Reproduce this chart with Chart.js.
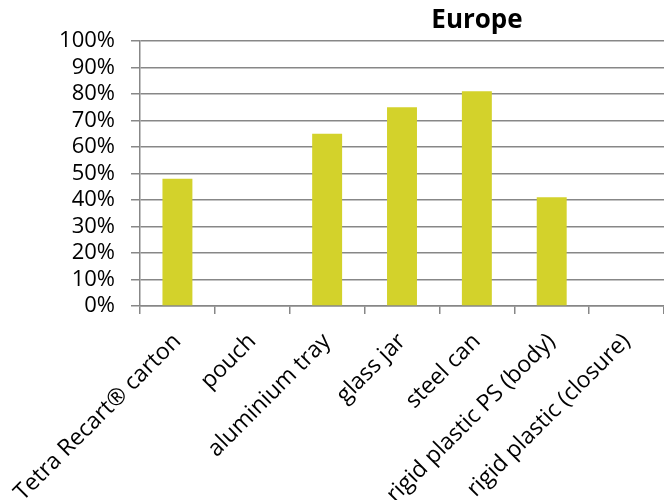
<!DOCTYPE html>
<html><head><meta charset="utf-8">
<script src="https://cdn.jsdelivr.net/npm/chart.js@4/dist/chart.umd.min.js"></script>
<style>html,body{margin:0;padding:0;background:#fff;overflow:hidden}</style>
</head><body>
<canvas id="c" width="664" height="500" style="display:block;width:664px;height:500px"></canvas>
<script>
const titleText = 'Europe';
const categories = ['Tetra Recart® carton', 'pouch', 'aluminium tray', 'glass jar', 'steel can', 'rigid plastic PS (body)', 'rigid plastic (closure)'];
const values = [48, null, 65, 75, 81, 41, null];
const yMin = 0, yMax = 100, yStep = 10;

const gridColor = '#878787';
const barColor = '#D3D22B';
const fontFamily = '"Open Sans", "Liberation Sans", sans-serif';

const titlePlugin = {
  id: 'customTitle',
  afterDraw(chart) {
    const ctx = chart.ctx;
    ctx.save();
    ctx.font = 'bold 26px ' + fontFamily;
    ctx.fillStyle = '#000';
    ctx.textAlign = 'center';
    ctx.textBaseline = 'alphabetic';
    ctx.fillText(titleText, 477, 28);
    ctx.restore();
  }
};

new Chart(document.getElementById('c'), {
  type: 'bar',
  data: {
    labels: categories,
    datasets: [{
      data: values,
      backgroundColor: barColor,
      borderWidth: 0,
      barPercentage: 0.4,
      categoryPercentage: 1.0
    }]
  },
  options: {
    responsive: false,
    devicePixelRatio: 1,
    animation: false,
    layout: { padding: { left: 0, right: 0, top: 41, bottom: 0 } },
    plugins: { legend: { display: false }, title: { display: false }, tooltip: { enabled: false } },
    scales: {
      x: {
        grid: { display: true, drawOnChartArea: false, drawTicks: true, tickLength: 8, color: gridColor, lineWidth: 1.5, offset: true },
        border: { display: true, color: gridColor, width: 1.5 },
        ticks: {
          autoSkip: false, maxRotation: 45, minRotation: 45,
          color: '#000', padding: 14,
          font: { family: fontFamily, size: 23 }
        },
        afterFit(scale) { scale.height = 194; scale.paddingLeft = 0; scale.paddingRight = 0; }
      },
      y: {
        min: yMin, max: yMax,
        grid: { color: gridColor, lineWidth: 1.5, drawTicks: true, tickLength: 9 },
        border: { display: true, color: gridColor, width: 1.5 },
        ticks: {
          stepSize: yStep, autoSkip: false, color: '#000', padding: 16,
          font: { family: fontFamily, size: 22 },
          callback: v => v + '%'
        },
        afterFit(scale) { scale.width = 140; scale.paddingTop = 0; scale.paddingBottom = 0; }
      }
    }
  },
  plugins: [titlePlugin]
});
</script>
</body></html>
